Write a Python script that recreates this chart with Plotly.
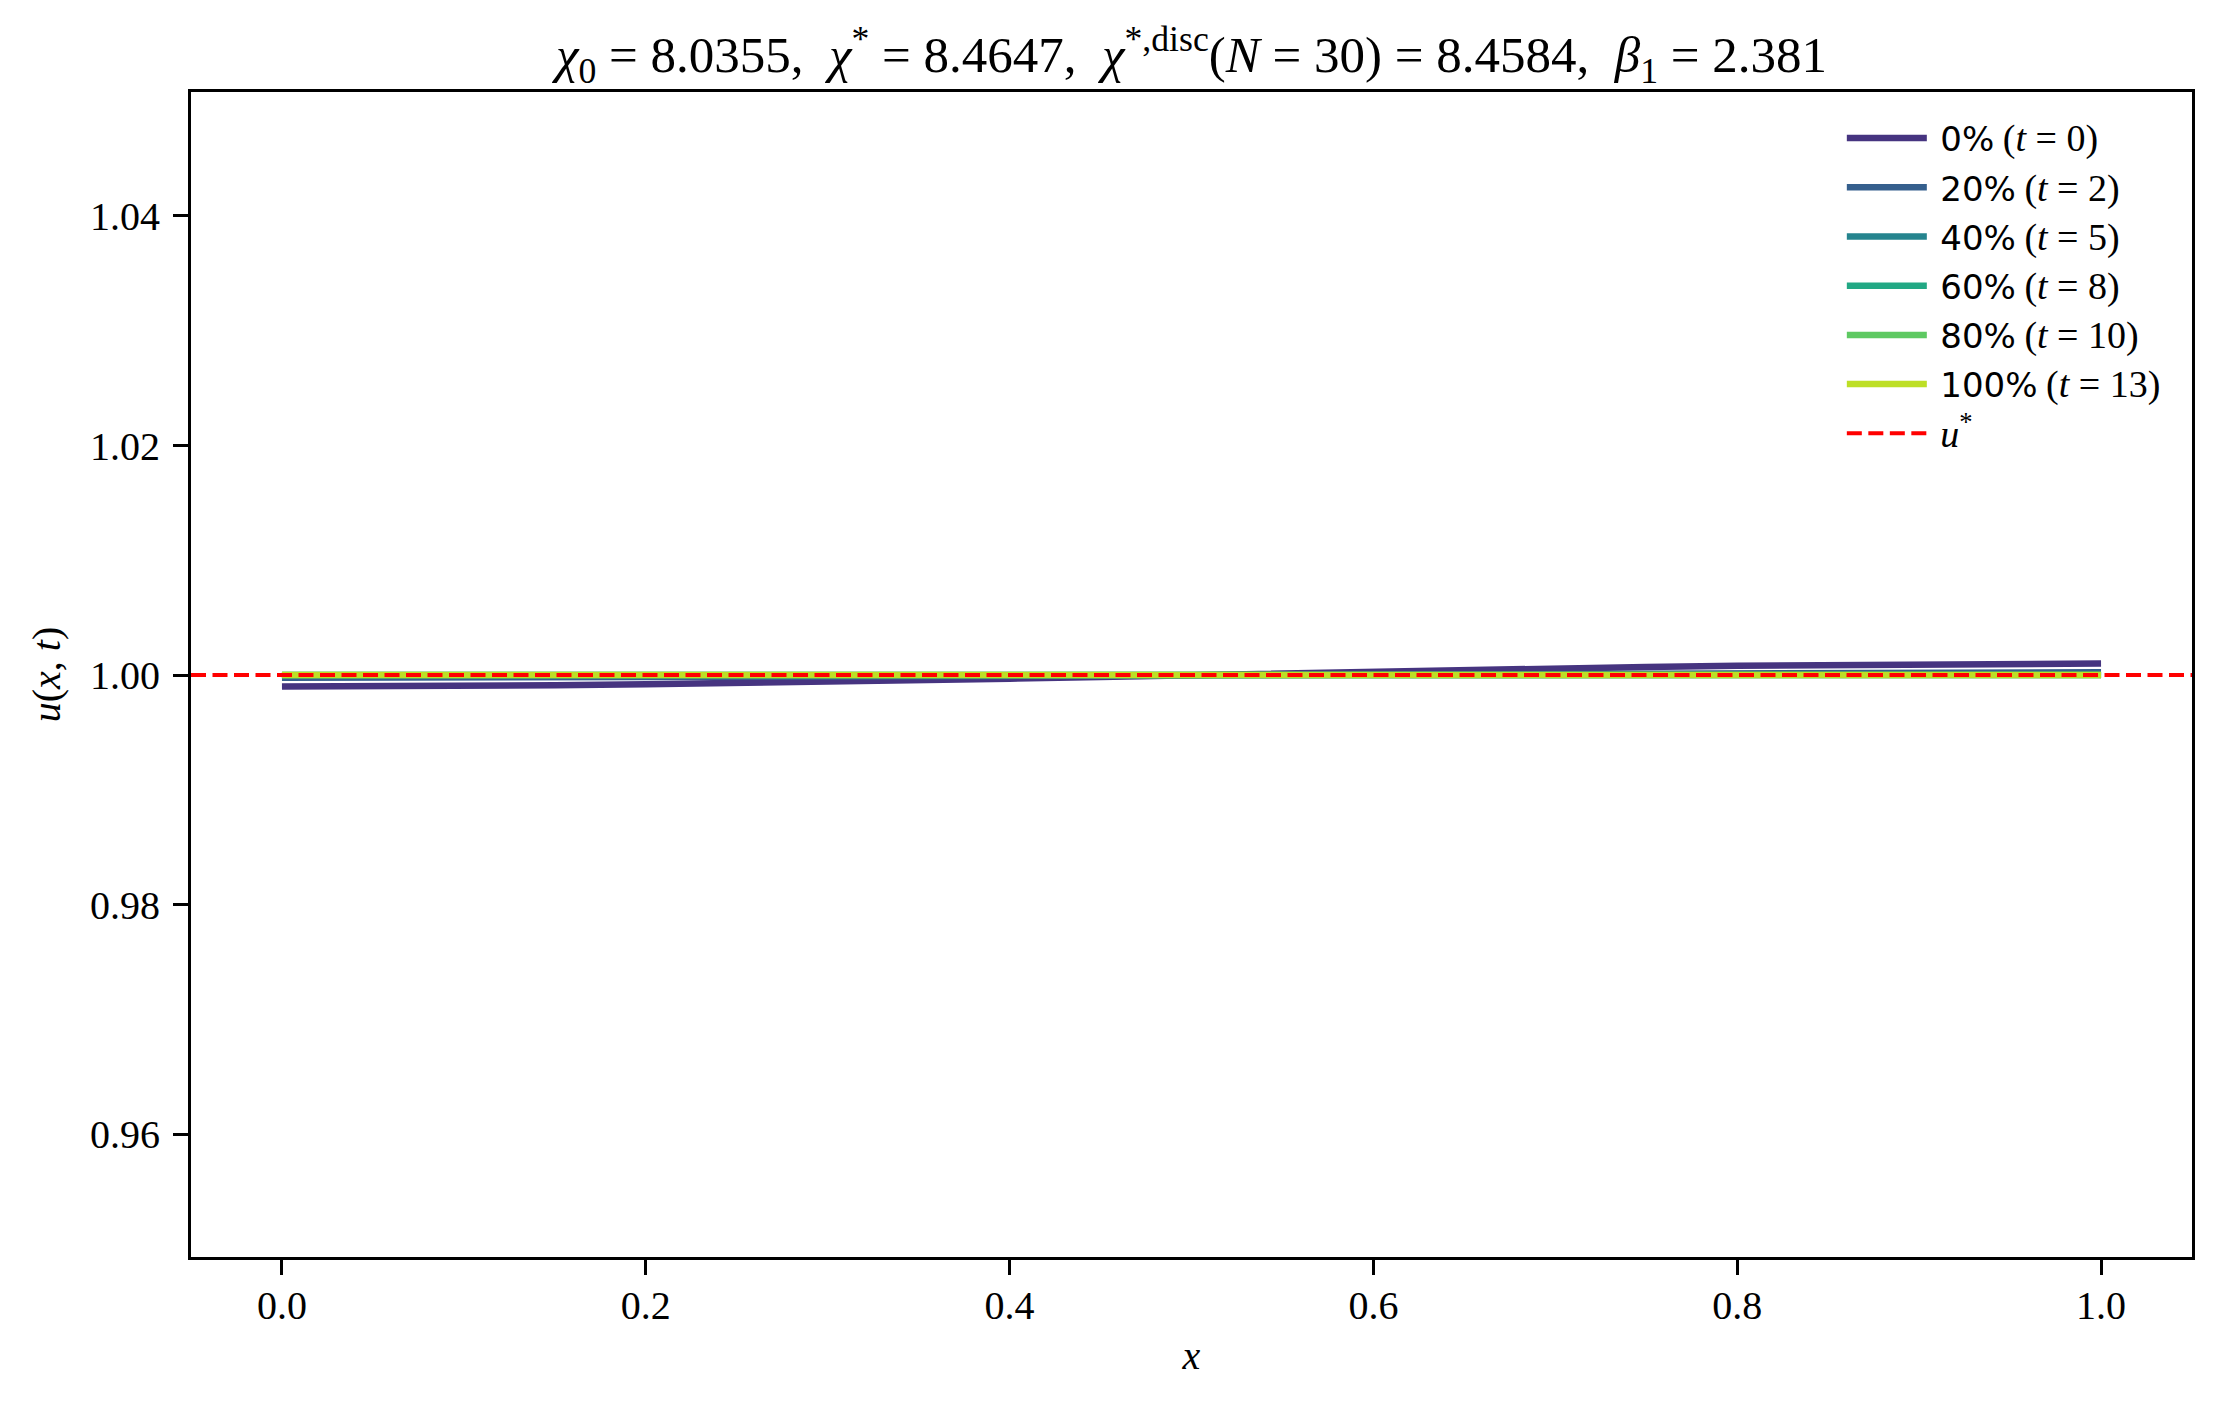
import plotly.graph_objects as go

# valores (perfil u(x,t) em alguns instantes)
x = [0.00, 0.05, 0.10, 0.15, 0.20, 0.25, 0.30, 0.35, 0.40, 0.45, 0.50,
     0.55, 0.60, 0.65, 0.70, 0.75, 0.80, 0.85, 0.90, 0.95, 1.00]

u_t0 = [0.99900, 0.99901, 0.99905, 0.99911, 0.99919, 0.99929, 0.99941, 0.99955, 0.99969, 0.99984, 1.00000,
        1.00016, 1.00031, 1.00045, 1.00059, 1.00071, 1.00081, 1.00089, 1.00095, 1.00099, 1.00100]
u_t2 = [0.99976, 0.99976, 0.99977, 0.99979, 0.99981, 0.99983, 0.99986, 0.99989, 0.99993, 0.99996, 1.00000,
        1.00004, 1.00007, 1.00011, 1.00014, 1.00017, 1.00019, 1.00021, 1.00023, 1.00024, 1.00024]
u_t5 = [0.99997, 0.99997, 0.99997, 0.99997, 0.99998, 0.99998, 0.99998, 0.99999, 0.99999, 1.00000, 1.00000,
        1.00000, 1.00001, 1.00001, 1.00002, 1.00002, 1.00002, 1.00003, 1.00003, 1.00003, 1.00003]
u_t8 = [1.00000, 1.00000, 1.00000, 1.00000, 1.00000, 1.00000, 1.00000, 1.00000, 1.00000, 1.00000, 1.00000,
        1.00000, 1.00000, 1.00000, 1.00000, 1.00000, 1.00000, 1.00000, 1.00000, 1.00000, 1.00000]
u_t10 = [1.00000, 1.00000, 1.00000, 1.00000, 1.00000, 1.00000, 1.00000, 1.00000, 1.00000, 1.00000, 1.00000,
         1.00000, 1.00000, 1.00000, 1.00000, 1.00000, 1.00000, 1.00000, 1.00000, 1.00000, 1.00000]
u_t13 = [1.00000, 1.00000, 1.00000, 1.00000, 1.00000, 1.00000, 1.00000, 1.00000, 1.00000, 1.00000, 1.00000,
         1.00000, 1.00000, 1.00000, 1.00000, 1.00000, 1.00000, 1.00000, 1.00000, 1.00000, 1.00000]

percents = ["0%", "20%", "40%", "60%", "80%", "100%"]
times = [0, 2, 5, 8, 10, 13]
profiles = [u_t0, u_t2, u_t5, u_t8, u_t10, u_t13]

U_STAR = 1.0
X_RANGE = [-0.05, 1.05]
Y_RANGE = [0.9493, 1.0508]

x_ticks = [0.0, 0.2, 0.4, 0.6, 0.8, 1.0]
y_ticks = [0.96, 0.98, 1.00, 1.02, 1.04]

# viridis entre 0.15 e 0.9
cores = ['#463480', '#355f8d', '#25848e', '#22a884', '#5ec962', '#bddf26']

SERIF = "Liberation Serif"
SANS = "DejaVu Sans"

fig = go.Figure()

for pct, t, u, cor in zip(percents, times, profiles, cores):
    nome = (f'&nbsp;<span style="font-family:{SANS}">{pct}</span> '
            f'<span style="font-size:38px">(<i>t</i>&nbsp;=&nbsp;{t})</span>')
    fig.add_trace(go.Scatter(
        x=x, y=u, mode='lines', name=nome,
        line=dict(color=cor, width=6.5),
        legendgroup=pct,
    ))

fig.add_trace(go.Scatter(
    x=X_RANGE, y=[U_STAR, U_STAR], mode='lines',
    name='&nbsp;<span style="font-size:38px"><i>u</i><sup>*</sup></span>',
    line=dict(color='#ff0000', width=4, dash='15px,6.5px'),
    legendgroup='ustar',
))

titulo = ("<i>χ</i><sub>0</sub> = 8.0355,  <i>χ</i><sup>*</sup> = 8.4647,  "
          "<i>χ</i><sup>*,disc</sup>(<i>N</i> = 30) = 8.4584,  "
          "<i>β</i><sub>1</sub> = 2.381")

eixo = dict(
    showline=True, mirror=True, linecolor='black', linewidth=3,
    ticks='outside', ticklen=15, tickwidth=3, tickcolor='black',
    showgrid=False, zeroline=False,
    tickfont=dict(family=SERIF, size=40, color='black'),
)

fig.update_layout(
    width=2220, height=1409,
    paper_bgcolor='white', plot_bgcolor='white',
    margin=dict(l=191, r=28, t=92, b=152),
    font=dict(family=SERIF, size=40, color='black'),
    title=dict(text=titulo, x=0.5, xref='paper', xanchor='center',
               y=1, yref='paper', yanchor='bottom', pad=dict(b=20),
               font=dict(family=SERIF, size=51, color='black')),
    xaxis=dict(eixo, range=X_RANGE, tickvals=x_ticks, tickformat='.1f',
               ticklabelstandoff=-4,
               title=dict(text='<i>x</i>', font=dict(family=SERIF, size=40), standoff=14)),
    yaxis=dict(eixo, range=Y_RANGE, tickvals=y_ticks, tickformat='.2f',
               ticklabelstandoff=5,
               title=dict(text='<i>u</i>(<i>x</i>, <i>t</i>)', font=dict(family=SERIF, size=40), standoff=18)),
    legend=dict(x=0.825, y=0.985, xanchor='left', yanchor='top',
                bgcolor='rgba(0,0,0,0)', borderwidth=0,
                font=dict(family=SERIF, size=34, color='black'),
                itemwidth=80, traceorder='grouped', tracegroupgap=2),
    showlegend=True,
)

fig.write_html("out.html", config={'displayModeBar': False},
               post_script="document.body.style.margin='0';")
